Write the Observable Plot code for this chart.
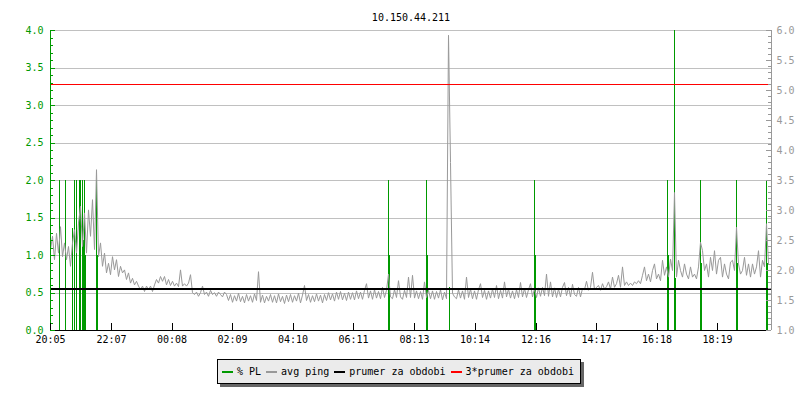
<!DOCTYPE html>
<html><head><meta charset="utf-8">
<script src="https://cdn.jsdelivr.net/npm/d3@7"></script>
<script src="https://cdn.jsdelivr.net/npm/@observablehq/plot@0.6"></script>
<style>
body{margin:0;background:#fff;}
#wrap{position:relative;width:800px;height:400px;font-family:"DejaVu Sans Mono",monospace;font-size:10px;color:#000;}
#legend{position:absolute;left:217px;top:359px;width:364px;height:25px;box-sizing:border-box;border:1px solid #000;background:#ebebeb;box-shadow:3px 3px 0 #666;display:flex;align-items:center;padding-left:4px;white-space:pre;}
#legend .it{display:flex;align-items:center;margin-right:5px;}
#legend i{display:inline-block;width:11px;height:2px;margin-right:4px;}
</style>
</head><body>
<div id="wrap"><div id="chart"></div><div id="legend"></div></div>
<script>
// ---- data ----
const title = "10.150.44.211";
const seriesNames = ["% PL", "avg ping", "prumer za obdobi", "3*prumer za obdobi"];
const seriesColors = ["#009900", "#999999", "#000000", "#ff0000"];

// x axis: minutes from 20:05, tick labels
const xTickMinutes = [0, 122, 243, 364, 485, 606, 728, 849, 971, 1092, 1213, 1334];
const xTickLabels = ["20:05", "22:07", "00:08", "02:09", "04:10", "06:11", "08:13", "10:14", "12:16", "14:17", "16:18", "18:19"];
const xDomain = [0, 1442];

// left axis (% PL) and right axis (avg ping)
const leftDomain = [0, 4];
const rightDomain = [1, 6];

// avg ping, one sample every 4 minutes starting at 20:05
const pingStart = 0, pingStep = 4;
const pingValues = [
  2.35,2.57,2.18,2.62,2.29,2.73,2.23,2.46,2.18,2.40,
  2.07,2.46,2.68,2.29,2.79,3.07,2.40,2.96,2.29,3.01,
  2.57,3.18,2.35,3.68,2.23,2.46,2.07,2.29,1.96,2.12,
  1.93,2.23,2.01,2.18,1.90,2.07,1.96,2.01,1.85,1.96,
  1.79,1.87,1.76,1.82,1.74,1.68,1.74,1.65,1.74,1.68,
  1.74,1.65,1.76,1.85,1.79,1.90,1.82,1.90,1.76,1.85,
  1.75,1.82,1.74,1.79,1.73,2.01,1.74,1.78,1.74,1.79,
  1.93,1.63,1.60,1.64,1.57,1.63,1.74,1.60,1.64,1.57,
  1.67,1.60,1.63,1.57,1.64,1.60,1.56,1.64,1.60,
  1.50,1.60,1.47,1.58,1.49,1.62,1.48,1.57,1.46,1.60,
  1.49,1.58,1.47,1.61,1.50,1.98,1.47,1.59,1.46,1.57,
  1.49,1.60,1.47,1.58,1.46,1.61,1.48,1.57,1.45,1.59,
  1.48,1.60,1.47,1.58,1.49,1.62,1.46,1.59,1.75,1.50,
  1.60,1.47,1.58,1.48,1.61,1.49,1.59,1.46,1.60,1.50,
  1.63,1.51,1.61,1.49,1.64,1.52,1.65,1.51,1.62,1.50,
  1.64,1.52,1.63,1.51,1.66,1.53,1.64,1.52,1.67,1.78,
  1.54,1.66,1.52,1.68,1.54,1.65,1.53,1.72,1.55,1.67,
  1.94,1.56,1.53,1.68,1.55,1.83,1.56,1.52,1.67,1.55,
  1.89,1.55,1.92,1.54,1.66,1.53,1.65,1.52,1.81,1.55,
  1.67,1.53,1.66,1.52,1.65,1.54,1.68,1.51,1.64,1.53,
  5.92,3.80,1.62,1.56,1.53,1.68,1.54,1.66,1.52,1.89,
  1.55,1.69,1.53,1.66,1.52,1.68,1.78,1.55,1.67,1.52,
  1.66,1.54,1.69,1.55,1.75,1.53,1.67,1.54,1.81,1.56,
  1.69,1.54,1.66,1.53,1.68,1.55,1.80,1.56,1.70,1.55,
  1.68,1.78,1.56,1.70,1.55,1.71,1.57,1.72,1.58,1.94,
  1.57,1.81,1.56,1.71,1.55,1.69,1.56,1.72,1.80,1.58,
  1.72,1.56,1.77,1.60,1.57,1.72,1.56,1.70,
  1.68,1.82,1.67,1.72,1.97,1.68,1.72,1.75,1.67,1.78,
  1.69,1.73,1.81,1.69,1.89,1.72,1.78,1.92,1.72,2.06,
  1.75,1.81,1.75,1.79,1.75,1.81,1.78,1.83,1.78,1.92,
  2.06,1.83,1.94,1.81,2.00,2.11,1.86,1.94,1.83,2.17,
  1.92,2.06,1.89,2.19,2.00,3.30,1.89,2.17,2.00,1.89,
  2.11,1.94,1.86,2.06,1.89,1.94,1.86,2.06,2.47,2.33,
  2.00,2.11,1.89,2.22,2.00,2.33,1.94,2.17,2.22,1.89,
  2.11,1.94,1.86,2.14,2.17,2.00,2.72,2.11,1.94,2.00,
  2.22,1.92,2.11,1.89,2.11,1.94,2.06,2.33,1.89,2.17,
  2.06,2.78,2.11
];

// packet loss events (minute from 20:05, % PL)
const plMinutes = [18,30,44,48,52,58,60,64,66,68,70,92,94,676,678,752,754,798,968,970,1234,1236,1248,1250,1300,1302,1372,1374,1432,1434];
const plValues  = [2, 2, 1.36,2, 2, 2, 2, 2, 1.2,2, 1, 2, 1, 2, 1, 2, 1, 0.58,2, 1, 2, 1, 4, 0.7, 2, 0.9, 2, 0.9, 2, 0.9];

const pingAverage = 1.69;     // prumer za obdobi
const pingAverage3 = 5.10;    // 3*prumer za obdobi

// ---- build ----
const W = 800, H = 350, mL = 50, mR = 29, mT = 30, mB = 20;
const plotW = W - mL - mR, plotH = H - mT - mB;
const toLeft = r => (r - rightDomain[0]) / (rightDomain[1] - rightDomain[0]) * (leftDomain[1] - leftDomain[0]);

const pingData = pingValues.map((v, i) => ({t: pingStart + i * pingStep, v}));
const plData = plMinutes.map((t, i) => ({t, v: plValues[i]}));

const leftMajor = d3.range(0, 41, 5).map(d => d / 10);
const leftMinor = d3.range(0, 41).filter(d => d % 5).map(d => d / 10);
const rightMajor = d3.range(10, 61, 5).map(d => d / 10);
const rightMinor = d3.range(10, 61).filter(d => d % 5).map(d => d / 10);
const grid = leftMajor.filter(d => d > 0);
const xTicks = xTickMinutes.map((m, i) => ({m, label: xTickLabels[i]}));
const font = "DejaVu Sans Mono, monospace";
const crisp = {shapeRendering: "crispEdges"};

const chart = Plot.plot({
  width: W, height: H,
  marginLeft: mL, marginRight: mR, marginTop: mT, marginBottom: mB,
  style: {fontFamily: font, fontSize: "10px", background: "#fff"},
  x: {domain: xDomain, axis: null},
  y: {domain: leftDomain, axis: null},
  marks: [
    Plot.ruleY(grid, {stroke: "#c0c0c0", ...crisp}),
    Plot.ruleX(plData, {x: "t", y1: 0, y2: "v", stroke: seriesColors[0], ...crisp}),
    Plot.line(pingData, {x: "t", y: d => toLeft(d.v), stroke: seriesColors[1], strokeWidth: 1}),
    Plot.ruleY([pingAverage], {y: d => toLeft(d), stroke: seriesColors[2], strokeWidth: 2, ...crisp}),
    Plot.ruleY([pingAverage3], {y: d => toLeft(d), stroke: seriesColors[3], strokeWidth: 1, ...crisp}),
    // axes lines
    Plot.ruleY([leftDomain[0]], {stroke: "#000", ...crisp}),
    Plot.ruleX([xDomain[0]], {stroke: seriesColors[0], ...crisp}),
    Plot.ruleX([xDomain[1]], {stroke: "#999", ...crisp}),
    // left ticks (inward)
    Plot.ruleY(leftMajor, {stroke: seriesColors[0], insetRight: plotW - 5, ...crisp}),
    Plot.ruleY(leftMinor, {stroke: seriesColors[0], insetRight: plotW - 3, ...crisp}),
    // right ticks (inward)
    Plot.ruleY(rightMajor, {y: d => toLeft(d), stroke: "#999", insetLeft: plotW - 5, ...crisp}),
    Plot.ruleY(rightMinor, {y: d => toLeft(d), stroke: "#999", insetLeft: plotW - 3, ...crisp}),
    // x ticks (upward)
    Plot.ruleX(xTicks, {x: "m", stroke: "#000", insetTop: plotH - 7, ...crisp}),
    // labels
    Plot.text(leftMajor, {y: d => d, frameAnchor: "left", dx: -7, textAnchor: "end", text: d => d.toFixed(1), fill: seriesColors[0]}),
    Plot.text(rightMajor, {y: d => toLeft(d), frameAnchor: "right", dx: 5, textAnchor: "start", text: d => d.toFixed(1), fill: "#999"}),
    Plot.text(xTicks, {x: "m", frameAnchor: "bottom", dy: 12, text: "label", fill: "#000"}),
    Plot.text([title], {frameAnchor: "top", dy: -17, text: d => d, fill: "#000"})
  ]
});
document.getElementById("chart").appendChild(chart);

const legend = document.getElementById("legend");
seriesNames.forEach((name, i) => {
  const it = document.createElement("span");
  it.className = "it";
  const sw = document.createElement("i");
  sw.style.background = seriesColors[i];
  it.appendChild(sw);
  it.appendChild(document.createTextNode(name));
  legend.appendChild(it);
});
</script>
</body></html>
